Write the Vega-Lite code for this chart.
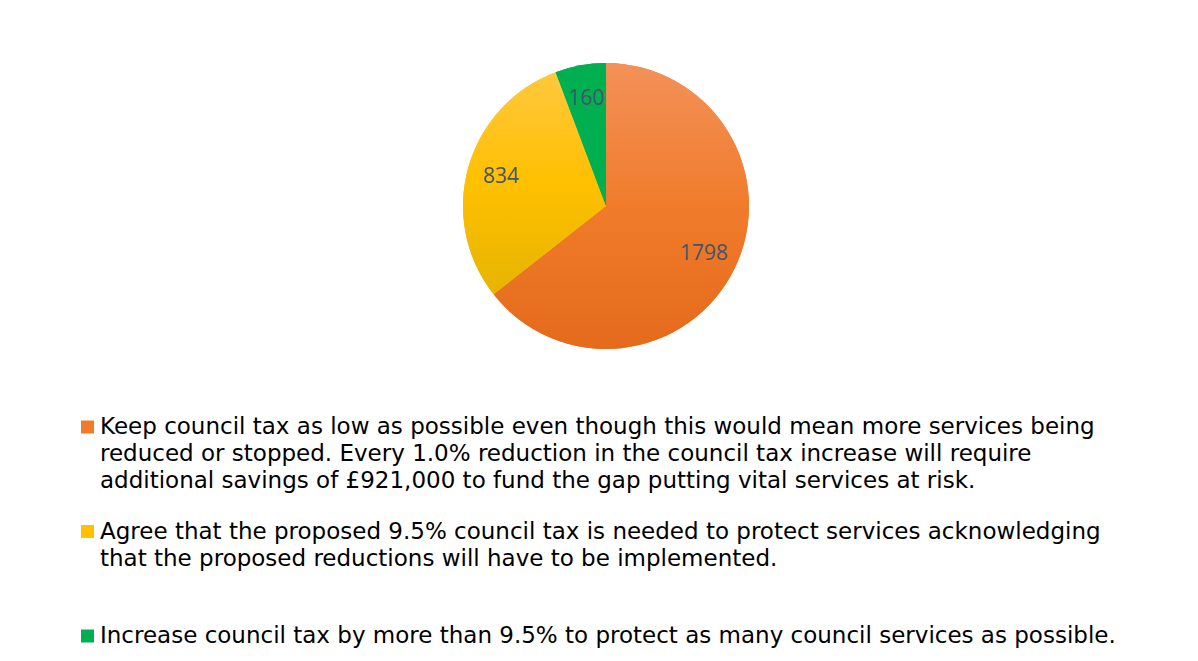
{
  "$schema": "https://vega.github.io/schema/vega-lite/v6.json",
  "width": 1100,
  "height": 286,
  "padding": {"left": 56, "top": 63, "right": 0, "bottom": 0},
  "background": "white",
  "config": {
    "view": {"stroke": null},
    "legend": {"labelFontSize": 23, "labelFont": "DejaVu Sans"},
    "style": {"guide-label": {"lineHeight": 27, "fontSize": 23, "font": "DejaVu Sans"}}
  },
  "data": {
    "values": [
      {"answer": "Keep council tax as low as possible even though this would mean more services being\nreduced or stopped. Every 1.0% reduction in the council tax increase will require\nadditional savings of £921,000 to fund the gap putting vital services at risk.", "responses": 1798, "rank": 1},
      {"answer": "Agree that the proposed 9.5% council tax is needed to protect services acknowledging\nthat the proposed reductions will have to be implemented.", "responses": 834, "rank": 2},
      {"answer": "Increase council tax by more than 9.5% to protect as many council services as possible.", "responses": 160, "rank": 3}
    ]
  },
  "encoding": {
    "theta": {"field": "responses", "type": "quantitative", "stack": true},
    "order": {"field": "rank", "type": "quantitative"}
  },
  "layer": [
    {
      "mark": {"type": "arc", "strokeWidth": 0},
      "encoding": {
        "color": {
          "field": "answer",
          "type": "nominal",
          "sort": null,
          "scale": {"range": ["#F07C2B", "#FFC000", "#00B050"]},
          "legend": {
            "orient": "none",
            "legendX": 20,
            "legendY": 352.5,
            "title": null,
            "direction": "vertical",
            "symbolType": "square",
            "symbolSize": 169,
            "symbolStrokeWidth": 0,
            "symbolOpacity": 1,
            "labelFontSize": 23,
            "labelFont": "DejaVu Sans",
            "labelColor": "#000000",
            "labelLimit": 1200,
            "labelOffset": 1,
            "rowPadding": 26.5,
            "gridAlign": "all",
            "padding": 0,
            "labelExpr": "split(datum.label, '\\n')"
          }
        }
      }
    },
    {
      "mark": {"type": "arc", "strokeWidth": 0},
      "encoding": {
        "fill": {
          "condition": [
            {"test": "datum.rank == 1", "value": {"gradient": "linear", "x1": 0, "y1": 0, "x2": 0, "y2": 1, "stops": [{"offset": 0, "color": "#F39159"}, {"offset": 0.5, "color": "#F07C2B"}, {"offset": 1, "color": "#E46A1C"}]}},
            {"test": "datum.rank == 2", "value": {"gradient": "linear", "x1": 0, "y1": 0, "x2": 0, "y2": 1, "stops": [{"offset": 0, "color": "#FFC83F"}, {"offset": 0.5, "color": "#FFC000"}, {"offset": 1, "color": "#E6B400"}]}}
          ],
          "value": "#00B050"
        }
      }
    },
    {
      "mark": {"type": "text", "radius": 109, "fontSize": 21, "font": "Open Sans", "color": "#44546A"},
      "encoding": {"text": {"field": "responses", "type": "quantitative"}}
    }
  ]
}
